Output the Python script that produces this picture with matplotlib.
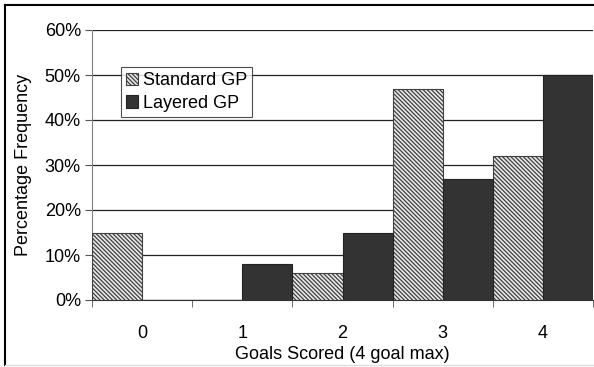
import matplotlib
matplotlib.use("Agg")
import matplotlib.pyplot as plt
from matplotlib.lines import Line2D
from matplotlib.ticker import FuncFormatter
import numpy as np

plt.rcParams['font.family'] = ['Liberation Sans', 'DejaVu Sans']
plt.rcParams['hatch.color'] = '#9a9a9a'
plt.rcParams['hatch.linewidth'] = 0.9

categories = ['0', '1', '2', '3', '4']
standard_gp = [15, 0, 6, 47, 32]
layered_gp = [0, 8, 15, 27, 50]
series_names = ['Standard GP', 'Layered GP']
y_ticks = [0, 10, 20, 30, 40, 50, 60]

FS = 13

fig = plt.figure(figsize=(5.94, 3.67), dpi=100)
ax = fig.add_axes([92/594, 67/367, 501/594, 270/367])

x = np.arange(len(categories))
w = 0.5
ax.bar(x - w/2, standard_gp, width=w, color='#e8e8e8', edgecolor='#404040',
       hatch='\\\\\\\\\\\\\\\\', linewidth=0.8, label=series_names[0], zorder=3)
ax.bar(x + w/2, layered_gp, width=w, color='#333333', edgecolor='#222222',
       linewidth=0.8, label=series_names[1], zorder=3)

ax.set_xlim(-0.5, len(categories) - 0.5)
ax.set_ylim(0, 60)
ax.set_yticks(y_ticks)
ax.yaxis.set_major_formatter(FuncFormatter(lambda v, p: f"{int(v)}%"))
ax.yaxis.grid(True, color='#222222', linewidth=0.9)
ax.set_axisbelow(True)

ax.set_xticks(x)
ax.set_xticklabels(categories)
ax.set_xticks(np.arange(-0.5, len(categories)), minor=True)
ax.tick_params(axis='x', which='major', length=0, pad=18, labelsize=FS)
ax.tick_params(axis='x', which='minor', length=5, direction='out', color='#555555')
ax.tick_params(axis='y', length=5, direction='out', color='#555555', labelsize=FS, pad=3)

for s in ['top', 'right']:
    ax.spines[s].set_visible(False)
ax.spines['left'].set_color('#808080')
ax.spines['bottom'].set_color('#333333')

ax.set_ylabel('Percentage Frequency', fontsize=FS, labelpad=9)
ax.set_xlabel('Goals Scored (4 goal max)', fontsize=FS, labelpad=3)

leg = ax.legend(loc='upper left', bbox_to_anchor=(29/501, 233/270), frameon=True,
                fancybox=False, edgecolor='#222222', fontsize=FS,
                handlelength=0.65, handleheight=0.65, handletextpad=0.25,
                borderpad=0.3, labelspacing=0.3, borderaxespad=0)
leg.get_frame().set_linewidth(0.8)

# outer chart-area frame
fig.add_artist(Line2D([5/594, 5/594], [2/367, 1 - 5/367], transform=fig.transFigure,
                      color='black', linewidth=1.5))
fig.add_artist(Line2D([5/594, 1], [1 - 5/367, 1 - 5/367], transform=fig.transFigure,
                      color='black', linewidth=1.5))
fig.add_artist(Line2D([5/594, 1], [2/367, 2/367], transform=fig.transFigure,
                      color='#dddddd', linewidth=1.0))

fig.savefig('out.png', dpi=100)
